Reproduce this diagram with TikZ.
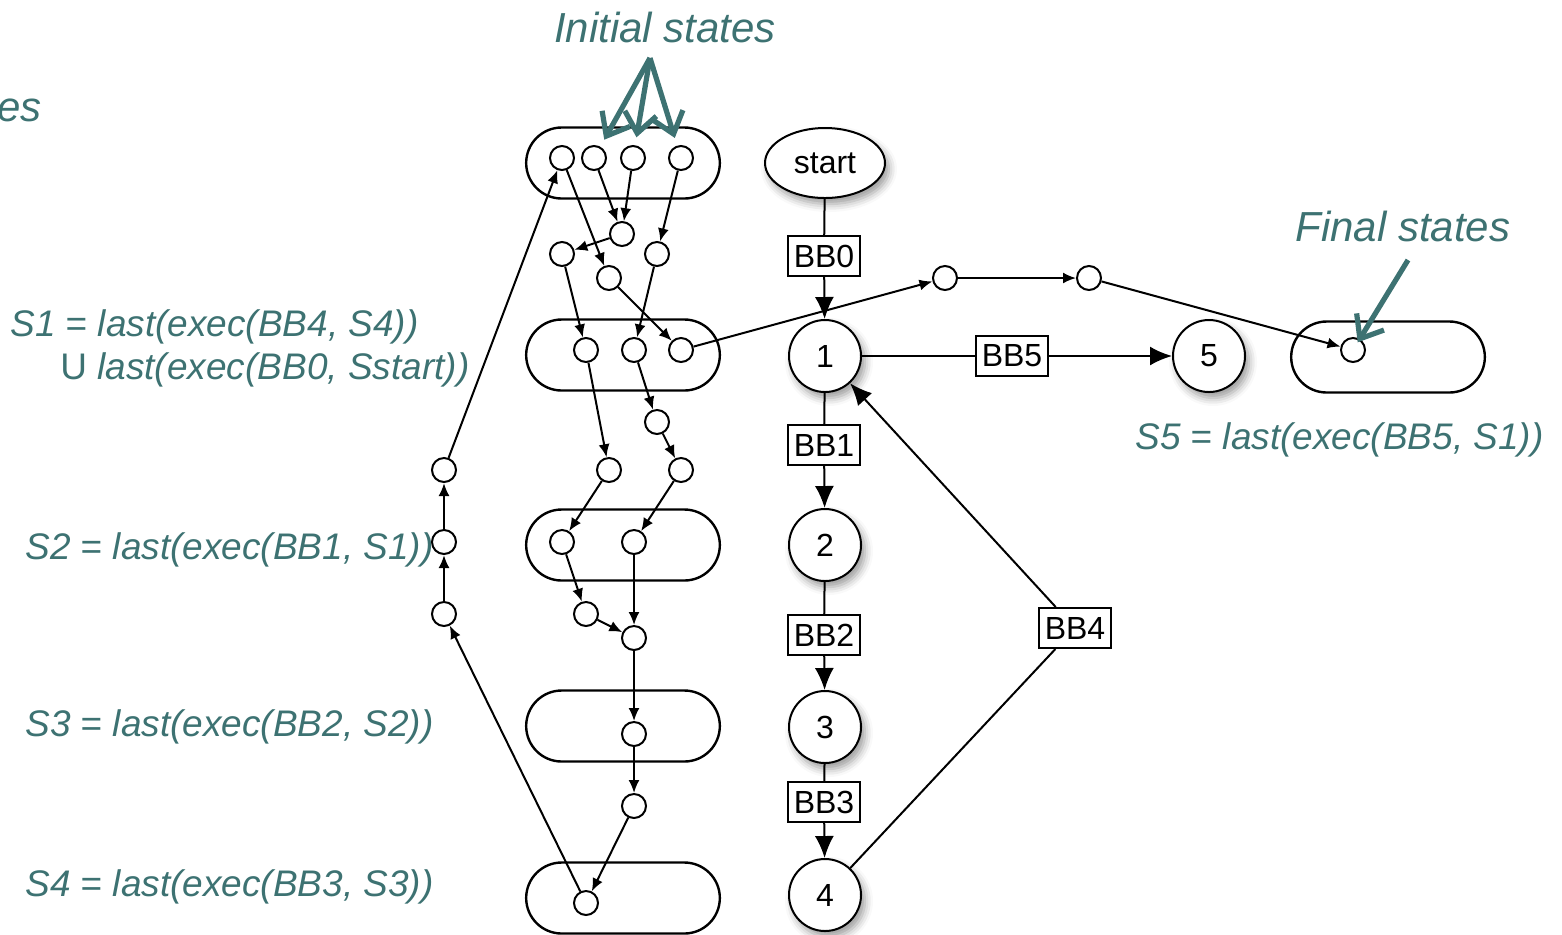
\documentclass[tikz,border=0pt]{standalone}
\usepackage{fontspec}
\setmainfont{Liberation Sans}
\usetikzlibrary{arrows.meta,shapes.geometric,shapes.misc,shadows.blur}
\definecolor{tealish}{HTML}{3D7272}
\tikzset{
  pill/.style={rounded rectangle,draw,line width=1.2pt,minimum width=103.5pt,minimum height=35.5pt},
  st/.style={circle,draw,line width=1pt,minimum size=12pt,inner sep=0pt,fill=white},
  sarrow/.style={-{Latex[length=6.5pt,width=5.5pt]},line width=1pt},
  shade/.style={blur shadow={shadow xshift=2pt,shadow yshift=-3pt,shadow blur radius=4pt}},
  block/.style={circle,draw,line width=1pt,minimum size=36pt,inner sep=0pt,fill=white,
    font=\fontsize{16}{18}\selectfont,shade},
  bbox/.style={rectangle,draw,line width=1pt,fill=white,minimum width=36pt,minimum height=20pt,
    inner sep=2pt,font=\fontsize{16}{18}\selectfont},
  cline/.style={line width=1pt},
  carrow/.style={-{Latex[length=11pt,width=9.5pt]},line width=1pt},
  note/.style={text=tealish,font=\fontsize{18.5}{21.5}\selectfont,anchor=west,inner sep=0pt},
  title/.style={text=tealish,font=\fontsize{21}{24}\selectfont\itshape,inner sep=0pt},
  tarrow/.style={-{Straight Barb[length=10pt,width=16pt]},line width=2.6pt,draw=tealish}
}

\begin{document}
\begin{tikzpicture}[x=0.5pt,y=-0.5pt]
\useasboundingbox (0,0) rectangle (1562,934);
% state sets
\node[pill] (p0) at (623,163) {};
\node[pill] (p1) at (623,355) {};
\node[pill] (p2) at (623,545) {};
\node[pill] (p3) at (623,726) {};
\node[pill] (p4) at (623,898) {};
\node[pill] (p5) at (1388,357) {};
% states
\node[st] (c01) at (562,158) {};
\node[st] (c02) at (594,158) {};
\node[st] (c03) at (633,158) {};
\node[st] (c04) at (681,158) {};
\node[st] (m1) at (622,234) {};
\node[st] (m2) at (562,254) {};
\node[st] (m3) at (657,254) {};
\node[st] (m4) at (609,278) {};
\node[st] (c11) at (586,350) {};
\node[st] (c12) at (634,350) {};
\node[st] (c13) at (681,350) {};
\node[st] (m5) at (657,422) {};
\node[st] (m6) at (609,470) {};
\node[st] (m7) at (681,470) {};
\node[st] (c21) at (562,542) {};
\node[st] (c22) at (634,542) {};
\node[st] (m8) at (586,614) {};
\node[st] (m9) at (634,638) {};
\node[st] (c31) at (634,734) {};
\node[st] (m10) at (634,806) {};
\node[st] (c41) at (586,903) {};
\node[st] (l1) at (444,470) {};
\node[st] (l2) at (444,542) {};
\node[st] (l3) at (444,614) {};
\node[st] (r1) at (945,278) {};
\node[st] (r2) at (1089,278) {};
\node[st] (c51) at (1353,350) {};
\draw[sarrow] (c02) -- (m1); \draw[sarrow] (c03) -- (m1); \draw[sarrow] (m1) -- (m2);
\draw[sarrow] (c01) -- (m4); \draw[sarrow] (c04) -- (m3);
\draw[sarrow] (m2) -- (c11); \draw[sarrow] (m3) -- (c12); \draw[sarrow] (m4) -- (c13);
\draw[sarrow] (c11) -- (m6); \draw[sarrow] (c12) -- (m5); \draw[sarrow] (m5) -- (m7);
\draw[sarrow] (m6) -- (c21); \draw[sarrow] (m7) -- (c22);
\draw[sarrow] (c21) -- (m8); \draw[sarrow] (c22) -- (m9); \draw[sarrow] (m8) -- (m9);
\draw[sarrow] (m9) -- (c31); \draw[sarrow] (c31) -- (m10); \draw[sarrow] (m10) -- (c41);
\draw[sarrow] (c41) -- (l3); \draw[sarrow] (l3) -- (l2); \draw[sarrow] (l2) -- (l1);
\draw[sarrow] (l1) -- (c01);
\draw[sarrow] (c13) -- (r1); \draw[sarrow] (r1) -- (r2); \draw[sarrow] (r2) -- (c51);
% control flow graph
\node[ellipse,draw,line width=1pt,fill=white,minimum width=60pt,minimum height=35pt,
  font=\fontsize{16}{18}\selectfont,shade] (start) at (825,163) {start};
\node[block] (n1) at (825,356) {1};
\node[block] (n2) at (825,545) {2};
\node[block] (n3) at (825,727) {3};
\node[block] (n4) at (825,895) {4};
\node[block] (n5) at (1209,356) {5};
\node[bbox] (bb0) at (824,256) {BB0};
\node[bbox] (bb1) at (824,445) {BB1};
\node[bbox] (bb2) at (824,635) {BB2};
\node[bbox] (bb3) at (824,802) {BB3};
\node[bbox] (bb4) at (1075,628) {BB4};
\node[bbox] (bb5) at (1012,356) {BB5};
\draw[cline] (start) -- (bb0); \draw[carrow] (bb0) -- (n1);
\draw[cline] (n1) -- (bb1); \draw[carrow] (bb1) -- (n2);
\draw[cline] (n2) -- (bb2); \draw[carrow] (bb2) -- (n3);
\draw[cline] (n3) -- (bb3); \draw[carrow] (bb3) -- (n4);
\draw[cline] (n1) -- (bb5); \draw[carrow] (bb5) -- (n5);
\draw[cline] (n4) -- (bb4); \draw[carrow] (bb4) -- (n1);
% labels
\node[title] (init) at (665,27) {Initial states};
\node[title] (fin) at (1403,226) {Final states};
\node[title,anchor=west] (es) at (-3,110) {es};
\coordinate (ia) at (650,58);
\coordinate (fa) at (1408,260);
\draw[tarrow,shorten >=4pt] (ia) -- (c02);
\draw[tarrow,shorten >=4pt] (ia) -- (c03);
\draw[tarrow,shorten >=4pt] (ia) -- (c04);
\draw[tarrow,shorten >=-2pt] (fa) -- (c51);
\node[note,align=left] (s1) at (10,348) {\textit{S1 = last(exec(BB4, S4))}\\
  \hspace*{25pt}U \textit{last(exec(BB0, Sstart))}};
\node[note] (s2) at (25,550) {\textit{S2 = last(exec(BB1, S1))}};
\node[note] (s3) at (25,727) {\textit{S3 = last(exec(BB2, S2))}};
\node[note] (s4) at (25,887) {\textit{S4 = last(exec(BB3, S3))}};
\node[note] (s5) at (1135,440) {\textit{S5 = last(exec(BB5, S1))}};
\end{tikzpicture}
\end{document}
